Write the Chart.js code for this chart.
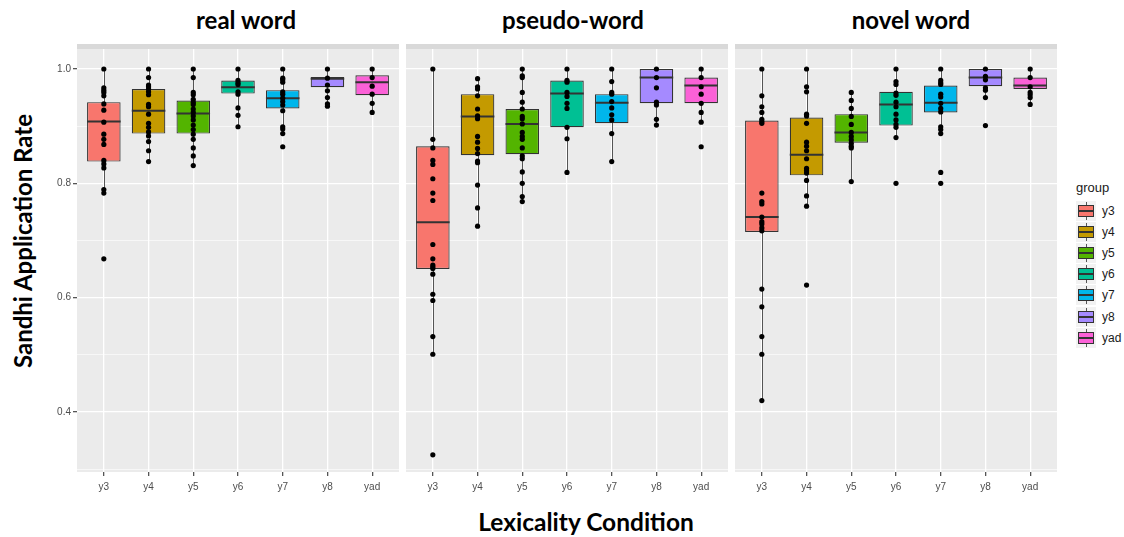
<!DOCTYPE html>
<html>
<head>
<meta charset="utf-8">
<script src="https://cdn.jsdelivr.net/npm/chart.js@4.4.1/dist/chart.umd.min.js"></script>
<style>
  body { margin: 0; background: #fff; width: 1124px; height: 537px; position: relative; overflow: hidden; font-family: "Liberation Sans", Arial, sans-serif; }
  .titulo { position: absolute; font-family: Lato, "Open Sans", sans-serif; font-weight: bold; font-size: 24px; color: #000; white-space: nowrap; transform: translateX(-50%); }
  .faixa { position: absolute; top: 44px; height: 5px; width: 322px; background: #d9d9d9; }
  canvas { position: absolute; }
  #eixoY { position: absolute; left: 22px; top: 241px; transform: translate(-50%, -50%) rotate(-90deg); font-family: Lato, "Open Sans", sans-serif; font-weight: bold; font-size: 24px; white-space: nowrap; }
  #eixoX { position: absolute; left: 586px; top: 507px; transform: translateX(-50%); font-family: Lato, "Open Sans", sans-serif; font-weight: bold; font-size: 24.5px; white-space: nowrap; }
  #legenda { position: absolute; left: 1076px; top: 180px; font-size: 12px; color: #1a1a1a; }
  #legenda .tit { margin-bottom: 5px; font-size: 13px; }
  #legenda .item { height: 21.2px; display: flex; align-items: center; }
  #legenda .chave { width: 20px; height: 20px; background: #f2f2f2; position: relative; margin-right: 6px; }
  #legenda .chave .w { position: absolute; left: 9.5px; top: 1px; width: 1px; height: 18px; background: #555; }
  #legenda .chave .b { position: absolute; left: 2px; top: 4px; width: 14px; height: 10px; border: 1px solid #333; }
  #legenda .chave .m { position: absolute; left: 2px; top: 9px; width: 16px; height: 2px; background: #333; }
</style>
</head>
<body>

<div class="titulo" style="left:246px; top:5px;">real word</div>
<div class="titulo" style="left:573px; top:5px;">pseudo-word</div>
<div class="titulo" style="left:911px; top:5px;">novel word</div>

<div class="faixa" style="left:77px;"></div>
<div class="faixa" style="left:406px;"></div>
<div class="faixa" style="left:735px;"></div>

<canvas id="painelReal" width="359" height="449" style="left:40px; top:49px;"></canvas>
<canvas id="painelPseudo" width="322" height="449" style="left:406px; top:49px;"></canvas>
<canvas id="painelNovel" width="322" height="449" style="left:735px; top:49px;"></canvas>

<div id="eixoY">Sandhi Application Rate</div>
<div id="eixoX">Lexicality Condition</div>
<div id="legenda"></div>

<script>
const grupos = ["y3", "y4", "y5", "y6", "y7", "y8", "yad"];
const cores = ["#F8766D", "#C49A00", "#53B400", "#00C094", "#00B6EB", "#A58AFF", "#FB61D7"];
const yTicks = [0.3, 0.4, 0.5, 0.6, 0.7, 0.8, 0.9, 1.0];

// real word
const realQ1 = [0.838, 0.887, 0.887, 0.957, 0.931, 0.968, 0.954];
const realMed = [0.908, 0.927, 0.922, 0.968, 0.949, 0.983, 0.977];
const realQ3 = [0.942, 0.965, 0.945, 0.980, 0.963, 0.986, 0.989];
const realLo = [0.783, 0.838, 0.831, 0.899, 0.887, 0.935, 0.924];
const realHi = [1.0, 1.0, 1.0, 1.0, 1.0, 1.0, 1.0];
const realPts = [
  [1.0, 0.967, 0.963, 0.959, 0.953, 0.939, 0.928, 0.907, 0.886, 0.877, 0.868, 0.840, 0.834, 0.827, 0.789, 0.783, 0.668],
  [1.0, 0.985, 0.972, 0.969, 0.965, 0.960, 0.955, 0.938, 0.934, 0.921, 0.905, 0.898, 0.890, 0.883, 0.873, 0.857, 0.838],
  [1.0, 0.985, 0.959, 0.955, 0.947, 0.942, 0.938, 0.930, 0.924, 0.918, 0.911, 0.902, 0.894, 0.886, 0.877, 0.862, 0.848, 0.831],
  [1.0, 0.980, 0.976, 0.973, 0.960, 0.956, 0.932, 0.919, 0.899],
  [1.0, 0.984, 0.981, 0.977, 0.960, 0.956, 0.949, 0.943, 0.937, 0.927, 0.899, 0.895, 0.887, 0.864],
  [1.0, 0.984, 0.972, 0.962, 0.950, 0.939, 0.935],
  [1.0, 0.985, 0.970, 0.956, 0.940, 0.924]
];

// pseudo-word
const pseudoQ1 = [0.650, 0.849, 0.851, 0.898, 0.905, 0.940, 0.940];
const pseudoMed = [0.732, 0.917, 0.904, 0.957, 0.941, 0.985, 0.971];
const pseudoQ3 = [0.865, 0.956, 0.930, 0.980, 0.956, 1.0, 0.985];
const pseudoLo = [0.501, 0.725, 0.768, 0.819, 0.838, 0.901, 0.906];
const pseudoHi = [1.0, 0.983, 1.0, 1.0, 1.0, 1.0, 1.0];
const pseudoPts = [
  [1.0, 0.877, 0.862, 0.840, 0.833, 0.808, 0.783, 0.770, 0.693, 0.668, 0.657, 0.654, 0.651, 0.641, 0.606, 0.595, 0.532, 0.501, 0.325],
  [0.983, 0.969, 0.965, 0.953, 0.930, 0.918, 0.913, 0.882, 0.872, 0.861, 0.852, 0.839, 0.836, 0.797, 0.757, 0.725],
  [1.0, 0.988, 0.985, 0.959, 0.942, 0.930, 0.917, 0.913, 0.904, 0.889, 0.882, 0.877, 0.862, 0.848, 0.843, 0.820, 0.800, 0.777, 0.768],
  [1.0, 0.980, 0.977, 0.959, 0.952, 0.940, 0.931, 0.898, 0.878, 0.819],
  [1.0, 0.978, 0.959, 0.956, 0.943, 0.932, 0.920, 0.911, 0.887, 0.838],
  [1.0, 0.985, 0.967, 0.942, 0.937, 0.912, 0.902],
  [1.0, 0.985, 0.969, 0.956, 0.940, 0.924, 0.907, 0.864]
];

// novel word
const novelQ1 = [0.715, 0.814, 0.871, 0.901, 0.924, 0.970, 0.965];
const novelMed = [0.741, 0.850, 0.889, 0.938, 0.941, 0.985, 0.971];
const novelQ3 = [0.910, 0.915, 0.921, 0.960, 0.971, 1.0, 0.985];
const novelLo = [0.420, 0.760, 0.803, 0.880, 0.887, 0.950, 0.938];
const novelHi = [1.0, 1.0, 0.959, 1.0, 1.0, 1.0, 1.0];
const novelPts = [
  [1.0, 0.953, 0.934, 0.924, 0.912, 0.908, 0.905, 0.783, 0.768, 0.764, 0.741, 0.733, 0.729, 0.722, 0.717, 0.615, 0.584, 0.532, 0.501, 0.420],
  [1.0, 0.969, 0.960, 0.921, 0.918, 0.905, 0.872, 0.865, 0.857, 0.843, 0.826, 0.822, 0.818, 0.805, 0.778, 0.760, 0.622],
  [0.959, 0.945, 0.931, 0.917, 0.903, 0.889, 0.882, 0.876, 0.870, 0.865, 0.862, 0.803],
  [1.0, 0.978, 0.973, 0.958, 0.954, 0.942, 0.934, 0.921, 0.911, 0.903, 0.898, 0.880, 0.800],
  [1.0, 0.980, 0.976, 0.973, 0.956, 0.951, 0.940, 0.931, 0.925, 0.899, 0.894, 0.887, 0.819, 0.800],
  [1.0, 0.987, 0.981, 0.967, 0.963, 0.950, 0.901],
  [1.0, 0.985, 0.969, 0.959, 0.955, 0.950, 0.938]
];

const PAINEL_TOPO = 49;
const PAINEL_ALTURA = 423;
const ALTURA_EIXO_X = 26;

const eMajor = v => Math.round(v * 10) % 2 === 0;

// fundo cinzento do painel
const fundoPainel = {
  id: "fundoPainel",
  beforeDraw(chart) {
    const { ctx, chartArea: a } = chart;
    ctx.save();
    ctx.fillStyle = "#ebebeb";
    ctx.fillRect(a.left, a.top, a.right - a.left, a.bottom - a.top);
    ctx.restore();
  }
};

// bigodes e medianas
const caixas = {
  id: "caixas",
  beforeDatasetsDraw(chart, args, opts) {
    const { ctx } = chart;
    const xs = chart.scales.x, ys = chart.scales.y;
    ctx.save();
    ctx.strokeStyle = "#555";
    ctx.lineWidth = 1;
    opts.lo.forEach((lo, i) => {
      const x = Math.round(xs.getPixelForValue(i + 1)) + 0.5;
      ctx.beginPath();
      ctx.moveTo(x, ys.getPixelForValue(lo));
      ctx.lineTo(x, ys.getPixelForValue(opts.hi[i]));
      ctx.stroke();
    });
    ctx.restore();
  },
  afterDatasetDraw(chart, args, opts) {
    if (args.index !== 0) return;
    const { ctx } = chart;
    const ys = chart.scales.y;
    const meta = chart.getDatasetMeta(0);
    ctx.save();
    ctx.strokeStyle = "#333";
    ctx.lineWidth = 2;
    opts.med.forEach((m, i) => {
      const barra = meta.data[i];
      const y = ys.getPixelForValue(m);
      ctx.beginPath();
      ctx.moveTo(barra.x - barra.width / 2, y);
      ctx.lineTo(barra.x + barra.width / 2, y);
      ctx.stroke();
    });
    ctx.restore();
  }
};

function criarPainel(id, q1, med, q3, lo, hi, pts, mostrarY) {
  const pontos = [];
  pts.forEach((lista, i) => lista.forEach(v => pontos.push({ x: i + 1, y: v })));

  const grafico = new Chart(document.getElementById(id), {
    type: "bar",
    data: {
      datasets: [{
        type: "bar",
        data: grupos.map((g, i) => ({ x: i + 1, y: [q1[i], q3[i]] })),
        backgroundColor: cores,
        borderColor: "#333",
        borderWidth: 1.2,
        borderSkipped: false,
        barPercentage: 0.75,
        categoryPercentage: 1,
        order: 2
      }, {
        type: "scatter",
        data: pontos,
        backgroundColor: "#000",
        borderWidth: 0,
        pointRadius: 2.6,
        order: 1
      }]
    },
    options: {
      responsive: false,
      maintainAspectRatio: false,
      animation: false,
      layout: { autoPadding: false, padding: 0 },
      plugins: {
        legend: { display: false },
        tooltip: { enabled: false },
        caixas: { lo, hi, med }
      },
      scales: {
        x: {
          type: "linear",
          min: 0.4,
          max: 7.6,
          offset: false,
          afterBuildTicks: eixo => { eixo.ticks = grupos.map((g, i) => ({ value: i + 1 })); },
          afterFit: eixo => { eixo.height = ALTURA_EIXO_X; },
          ticks: {
            callback: v => grupos[v - 1],
            color: "#4d4d4d",
            font: { size: 10, family: "'Liberation Sans', Arial, sans-serif" },
            padding: 5,
            maxRotation: 0,
            autoSkip: false
          },
          grid: { color: "#fff", lineWidth: 1.3, offset: false, tickColor: "#555", tickLength: 4 },
          border: { display: false }
        },
        y: {
          min: 0.295,
          max: 1.035,
          afterBuildTicks: eixo => { eixo.ticks = yTicks.map(v => ({ value: v })); },
          afterFit: eixo => { eixo.width = mostrarY ? 37 : 0; },
          ticks: {
            display: mostrarY,
            callback: v => eMajor(v) ? v.toFixed(1) : "",
            color: "#4d4d4d",
            font: { size: 10, family: "'Liberation Sans', Arial, sans-serif" },
            padding: 2
          },
          grid: {
            color: "#fff",
            lineWidth: c => eMajor(c.tick.value) ? 1.3 : 0.6,
            drawTicks: mostrarY,
            tickColor: c => eMajor(c.tick.value) ? "#555" : "rgba(0,0,0,0)",
            tickLength: 4
          },
          border: { display: false }
        }
      }
    },
    plugins: [fundoPainel, caixas]
  });

  // acertar a área do painel quando as etiquetas do eixo y acrescentam margem
  const a = grafico.chartArea;
  const margemTopo = a.top;
  const margemBaixo = grafico.height - ALTURA_EIXO_X - a.bottom;
  if (margemTopo > 0.5 || margemBaixo > 0.5) {
    grafico.resize(grafico.width, PAINEL_ALTURA + ALTURA_EIXO_X + margemTopo + margemBaixo);
    grafico.canvas.style.top = (PAINEL_TOPO - grafico.chartArea.top) + "px";
  }
  return grafico;
}

criarPainel("painelReal", realQ1, realMed, realQ3, realLo, realHi, realPts, true);
criarPainel("painelPseudo", pseudoQ1, pseudoMed, pseudoQ3, pseudoLo, pseudoHi, pseudoPts, false);
criarPainel("painelNovel", novelQ1, novelMed, novelQ3, novelLo, novelHi, novelPts, false);

// legenda
const legenda = document.getElementById("legenda");
legenda.innerHTML = '<div class="tit">group</div>';
grupos.forEach((g, i) => {
  const item = document.createElement("div");
  item.className = "item";
  item.innerHTML = `<div class="chave"><div class="w"></div><div class="b" style="background:${cores[i]}"></div><div class="m"></div></div><span>${g}</span>`;
  legenda.appendChild(item);
});
</script>
</body>
</html>
